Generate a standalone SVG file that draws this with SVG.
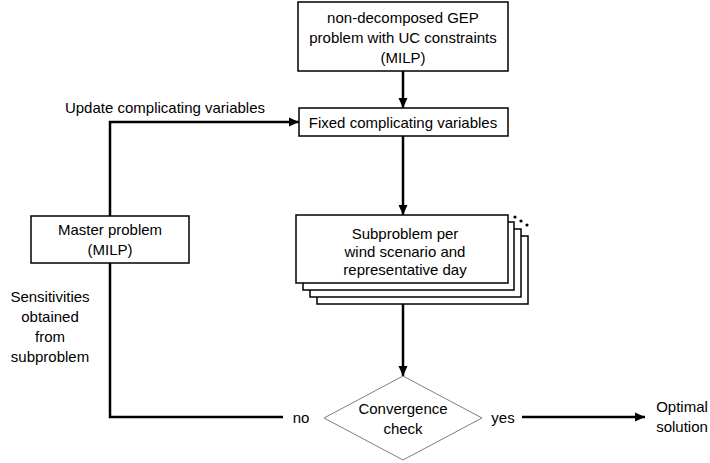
<svg xmlns="http://www.w3.org/2000/svg" width="710" height="463" viewBox="0 0 710 463">
<style>
text{font-family:"Liberation Sans",Arial,sans-serif;font-size:15px;fill:#000;text-anchor:middle}
.box{fill:#fff;stroke:#000;stroke-width:1.5}
.conn{fill:none;stroke:#000;stroke-width:2.5}
.dia{fill:#fff;stroke:#7f7f7f;stroke-width:1}
</style>
<defs>
<marker id="arr" markerUnits="userSpaceOnUse" markerWidth="10" markerHeight="10" viewBox="0 0 10 10" refX="10" refY="5" orient="auto">
<path d="M0,0.5 L10,5 L0,9.5 Z" fill="#000"/>
</marker>
</defs>
<rect width="710" height="463" fill="#fff"/>
<g id="connectors">
<line class="conn" x1="403" y1="71" x2="403" y2="108" marker-end="url(#arr)"/>
<line class="conn" x1="403" y1="136" x2="403" y2="215" marker-end="url(#arr)"/>
<line class="conn" x1="403" y1="304" x2="403" y2="376" marker-end="url(#arr)"/>
<polyline class="conn" points="110,216 110,122 299,122" marker-end="url(#arr)"/>
<polyline class="conn" points="110,263 110,417 283,417"/>
<line class="conn" x1="522" y1="417" x2="645" y2="417" marker-end="url(#arr)"/>
</g>
<g id="top">
<rect class="box" x="298" y="2" width="210" height="69"/>
<text x="403" y="23">non-decomposed GEP</text>
<text x="403" y="43">problem with UC constraints</text>
<text x="403" y="63">(MILP)</text>
</g>
<g id="fixed">
<rect class="box" x="299" y="108" width="209" height="28"/>
<text x="403" y="128">Fixed complicating variables</text>
</g>
<g id="subproblem">
<rect class="box" x="317" y="236" width="211" height="68"/>
<rect class="box" x="310" y="229" width="211" height="68"/>
<rect class="box" x="303" y="222" width="211" height="68"/>
<rect class="box" x="296" y="215" width="212" height="68"/>
<circle cx="515" cy="217" r="1.6" fill="#000"/>
<circle cx="521" cy="221" r="1.6" fill="#000"/>
<circle cx="527" cy="225" r="1.6" fill="#000"/>
<text x="405" y="239">Subproblem per</text>
<text x="405" y="257">wind scenario and</text>
<text x="405" y="275">representative day</text>
</g>
<g id="master">
<rect class="box" x="31" y="216" width="158" height="47"/>
<text x="110" y="235">Master problem</text>
<text x="110" y="255">(MILP)</text>
</g>
<g id="check">
<polygon class="dia" points="403,376 482,418 403,460 324,418"/>
<text x="403" y="414">Convergence</text>
<text x="403" y="434">check</text>
</g>
<g id="optimal">
<text x="682" y="412">Optimal</text>
<text x="682" y="432">solution</text>
</g>
<g id="labels">
<text x="165" y="113">Update complicating variables</text>
<text x="50" y="302">Sensitivities</text>
<text x="50" y="322">obtained</text>
<text x="50" y="342">from</text>
<text x="50" y="362">subproblem</text>
<text x="301" y="423">no</text>
<text x="503" y="423">yes</text>
</g>
</svg>
